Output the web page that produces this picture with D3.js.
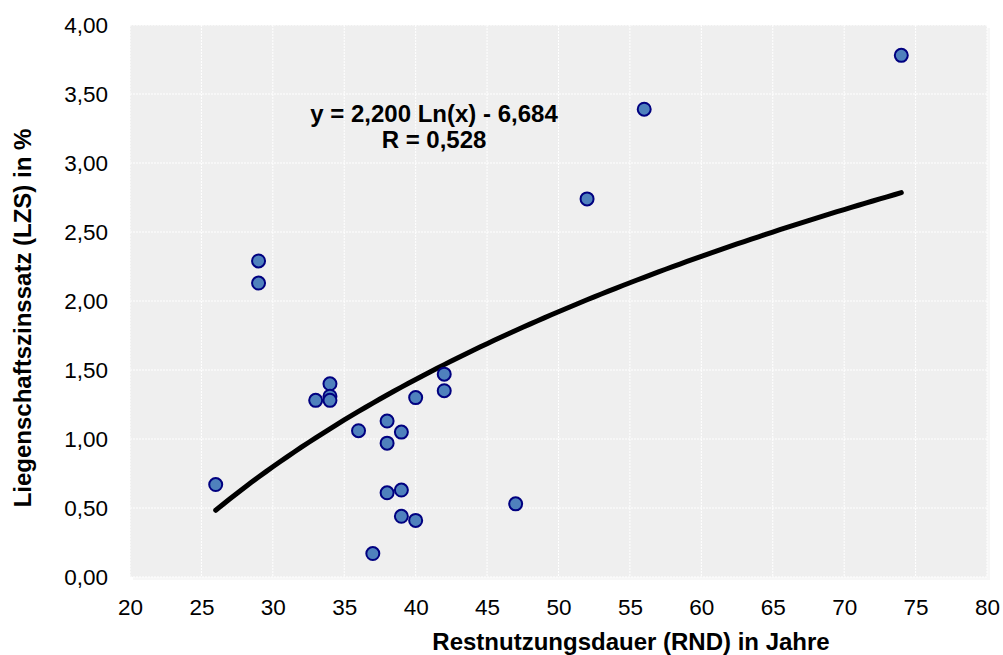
<!DOCTYPE html>
<html><head><meta charset="utf-8">
<script src="https://cdn.jsdelivr.net/npm/d3@7"></script>
<style>body{margin:0;background:#fff;} text{font-family:"Liberation Sans",Arial,sans-serif;}</style>
</head><body><svg id="c" width="1003" height="655"></svg>
<script>
const rnd = [26,29,29,33,34,34,34,36,38,38,39,40,42,42,38,39,39,40,37,47,52,56,74];
const lzs = [0.67,2.29,2.13,1.28,1.40,1.31,1.28,1.06,1.13,0.97,1.05,1.30,1.47,1.35,0.61,0.63,0.44,0.41,0.17,0.53,2.74,3.39,3.78];
const xTicks = [20,25,30,35,40,45,50,55,60,65,70,75,80];
const yTicks = [0,0.5,1,1.5,2,2.5,3,3.5,4];
const trendA = 2.200, trendB = -6.684;
const trendX = d3.range(26, 74.01, 0.5);
const eqLines = ["y = 2,200 Ln(x) - 6,684", "R = 0,528"];

const svg = d3.select("#c");
const L=130,R=987,T=25,B=577;
const x = d3.scaleLinear().domain([20,80]).range([L,R]);
const y = d3.scaleLinear().domain([0,4]).range([B,T]);
const fmt = v => v.toFixed(2).replace(".",",");
const FF = "Liberation Sans, Arial, sans-serif";

svg.append("rect").attr("x",L+3).attr("y",T+3).attr("width",R-L).attr("height",B-T).attr("fill","#f7f7f7");
svg.append("rect").attr("x",L).attr("y",T).attr("width",R-L).attr("height",B-T).attr("fill","#efefef");

const g = svg.append("g");
g.selectAll(".vg").data(xTicks).join("line").attr("x1",d=>x(d)).attr("x2",d=>x(d)).attr("y1",T).attr("y2",B)
 .attr("stroke","#fff").attr("stroke-width",1).attr("stroke-dasharray","2,1");
g.selectAll(".hg").data(yTicks).join("line").attr("y1",d=>y(d)).attr("y2",d=>y(d)).attr("x1",L).attr("x2",R)
 .attr("stroke","#fff").attr("stroke-width",1).attr("stroke-dasharray","2,1");

const xAxis = svg.append("g").attr("transform",`translate(0,${B})`)
 .call(d3.axisBottom(x).tickValues(xTicks).tickSize(0).tickFormat(d=>d));
xAxis.select(".domain").remove();
xAxis.selectAll("text").attr("y",38).attr("dy",0).attr("font-size",22.5).attr("fill","#000").style("font-family",FF);

const yAxis = svg.append("g").attr("transform",`translate(${L},0)`)
 .call(d3.axisLeft(y).tickValues(yTicks).tickSize(0).tickPadding(22).tickFormat(fmt));
yAxis.select(".domain").remove();
yAxis.selectAll("text").attr("font-size",22.5).attr("fill","#000").style("font-family",FF);

const line = d3.line().x(d=>x(d)).y(d=>y(trendA*Math.log(d)+trendB));
svg.append("path").datum(trendX).attr("d",line).attr("fill","none").attr("stroke","#000").attr("stroke-width",5).attr("stroke-linecap","round");

svg.selectAll(".pt").data(rnd.map((d,i)=>[d,lzs[i]])).join("circle")
 .attr("cx",d=>x(d[0])).attr("cy",d=>y(d[1])).attr("r",6.5)
 .attr("fill","#4f81bd").attr("stroke","#000080").attr("stroke-width",2);

svg.selectAll(".eq").data(eqLines).join("text").attr("x",434).attr("y",(d,i)=>122+i*26)
 .attr("text-anchor","middle").attr("font-size",24).attr("font-weight","bold").text(d=>d);

svg.append("text").attr("x",631).attr("y",650).attr("text-anchor","middle").attr("font-size",24).attr("font-weight","bold")
 .text("Restnutzungsdauer (RND) in Jahre");
svg.append("text").attr("transform","translate(31,318) rotate(-90)").attr("text-anchor","middle").attr("font-size",24).attr("font-weight","bold")
 .text("Liegenschaftszinssatz (LZS) in %");
</script></body></html>
